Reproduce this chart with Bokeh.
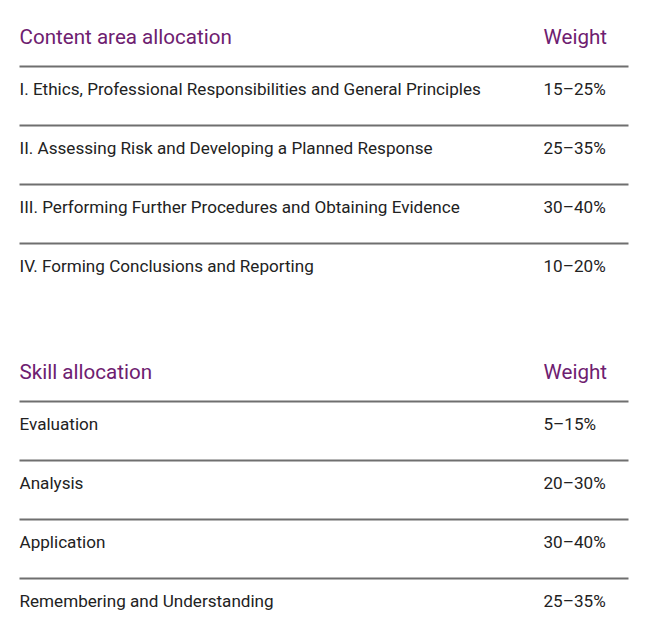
from bokeh.plotting import figure
from bokeh.models import Range1d, ColumnDataSource
from bokeh.core.properties import value
from bokeh.embed import file_html
from bokeh.resources import INLINE

# Data
table1_title = "Content area allocation"
table1_areas = [
    "I. Ethics, Professional Responsibilities and General Principles",
    "II. Assessing Risk and Developing a Planned Response",
    "III. Performing Further Procedures and Obtaining Evidence",
    "IV. Forming Conclusions and Reporting",
]
table1_weights = ["15\u201325%", "25\u201335%", "30\u201340%", "10\u201320%"]

table2_title = "Skill allocation"
table2_skills = ["Evaluation", "Analysis", "Application", "Remembering and Understanding"]
table2_weights = ["5\u201315%", "20\u201330%", "30\u201340%", "25\u201335%"]
weight_header = "Weight"

W, H = 634, 617
p = figure(width=W, height=H, output_backend="svg", toolbar_location=None,
           x_range=Range1d(0, W), y_range=Range1d(H, 0), min_border=0)
p.axis.visible = False
p.grid.visible = False
p.outline_line_color = None
p.background_fill_color = "white"
p.border_fill_color = "white"

X0 = 19
XW = 543
XR = 628
PURPLE = "#6e2070"
TEXT = "#222222"
RULE = "#6f6f6f"
PITCH = 59

def draw_table(title, labels, weights, header_y):
    p.text(x=[X0, XW], y=[header_y, header_y], text=[title, weight_header],
           text_font=value("Roboto"), text_font_size=value("20.6px"),
           text_color=PURPLE, text_baseline="middle", text_align="left")
    first_rule = header_y + 30
    n = len(labels)
    rule_y = [first_rule + i * PITCH for i in range(n)]
    p.segment(x0=[X0] * n, x1=[XR] * n, y0=rule_y, y1=rule_y,
              line_color=RULE, line_width=2)
    row_y = [r + 22 for r in rule_y]
    src = ColumnDataSource(dict(x=[X0] * n, xw=[XW] * n, y=row_y, lab=labels, w=weights))
    p.text(x="x", y="y", text="lab", source=src, text_font=value("Roboto"),
           text_font_size=value("17.1px"), text_color=TEXT, text_baseline="middle")
    p.text(x="xw", y="y", text="w", source=src, text_font=value("Roboto"),
           text_font_size=value("17.1px"), text_color=TEXT, text_baseline="middle")

draw_table(table1_title, table1_areas, table1_weights, 36)
draw_table(table2_title, table2_skills, table2_weights, 371)

open("out.html", "w").write(file_html(p, INLINE))
